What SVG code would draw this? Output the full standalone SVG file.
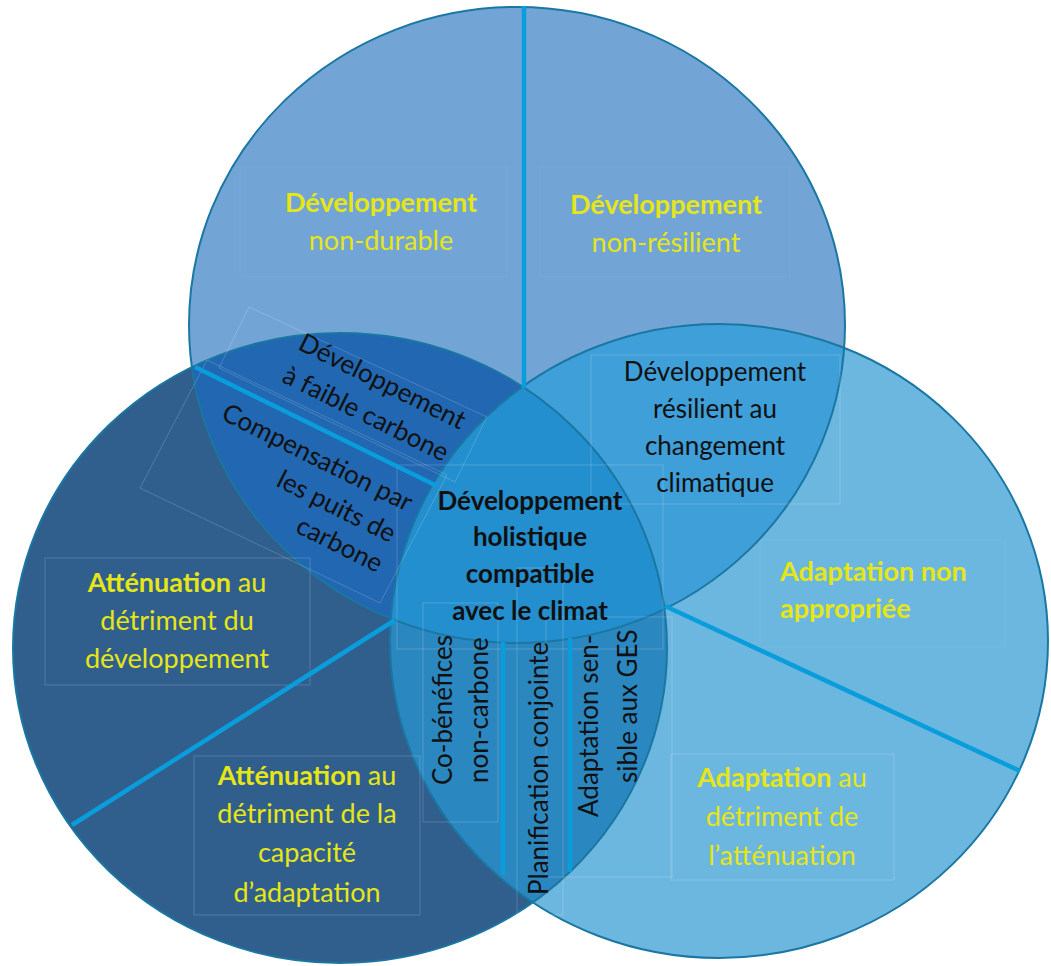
<svg xmlns="http://www.w3.org/2000/svg" width="1051" height="966" viewBox="0 0 1051 966">
<style>
.t{font-family:Lato,"Liberation Sans",sans-serif}
.y{fill:#E6E617;font-size:27px}
.k{fill:#111;font-size:26px}
.v{fill:#111;font-size:26px}
.b{font-weight:bold}
.dv{stroke:#0A9DDB;stroke-width:4.5;fill:none}
.box{fill:none;stroke:#fff;stroke-opacity:.18;stroke-width:1}
.fb{fill:none;stroke:#fff;stroke-opacity:.05;stroke-width:1}
.ol{fill:none;stroke:#1A77A2;stroke-width:2}
</style>
<defs>
<clipPath id="cT"><ellipse cx="517" cy="325" rx="328" ry="318"/></clipPath>
<clipPath id="cL"><ellipse cx="340" cy="648" rx="327" ry="315"/></clipPath>
<clipPath id="cR"><ellipse cx="719" cy="641" rx="329" ry="317"/></clipPath>
</defs>
<rect width="1051" height="966" fill="#fff"/>
<g id="circles">
<ellipse cx="517" cy="325" rx="328" ry="318" fill="#72A4D6"/>
<ellipse cx="340" cy="648" rx="327" ry="315" fill="#305E8D"/>
<ellipse cx="719" cy="641" rx="329" ry="317" fill="#6CB7E0"/>
<ellipse cx="340" cy="648" rx="327" ry="315" fill="#2167B1" clip-path="url(#cT)"/>
<ellipse cx="719" cy="641" rx="329" ry="317" fill="#3F9FD9" clip-path="url(#cT)"/>
<ellipse cx="719" cy="641" rx="329" ry="317" fill="#2A87C0" clip-path="url(#cL)"/>
<g clip-path="url(#cT)"><ellipse cx="719" cy="641" rx="329" ry="317" fill="#238FCF" clip-path="url(#cL)"/></g>
<ellipse class="ol" cx="517" cy="325" rx="328" ry="318"/>
<ellipse class="ol" cx="340" cy="648" rx="327" ry="315"/>
<ellipse class="ol" cx="719" cy="641" rx="329" ry="317"/>
</g>
<g id="textboxes">
<rect class="box" x="45" y="558" width="265" height="127"/>
<rect class="box" x="194" y="756" width="226" height="159"/>
<rect class="box" x="671" y="754" width="223" height="126"/>
<rect class="box" x="591" y="355" width="249" height="149"/>
<rect class="box" x="397" y="465" width="266" height="184"/>
<rect class="box" x="423" y="603" width="75" height="219"/>
<rect class="box" x="517" y="568" width="46" height="347"/>
<rect class="box" x="546" y="617" width="126" height="260"/>
<rect class="fb" x="760" y="540" width="245" height="107"/>
<rect class="fb" x="240" y="167" width="267" height="110"/>
<rect class="fb" x="540" y="167" width="250" height="110"/>
<polygon class="box" points="249,307 487,417 455,482 219,368"/>
<polygon class="box" points="207,360 447,475 380,603 140,488"/>
</g>
<g id="dividers">
<line class="dv" x1="524" y1="6" x2="524" y2="388"/>
<line class="dv" x1="195" y1="367" x2="437" y2="486"/>
<line class="dv" x1="72" y1="825" x2="395" y2="620"/>
<line class="dv" x1="665" y1="606" x2="1020" y2="771"/>
<line class="dv" x1="503" y1="642" x2="503" y2="875"/>
<line class="dv" x1="570" y1="638" x2="570" y2="872"/>
</g>
<g id="dev-non-durable" class="t y" text-anchor="middle">
<text x="381" y="212" class="b">Développement</text>
<text x="381" y="250">non-durable</text>
</g>
<g id="dev-non-resilient" class="t y" text-anchor="middle">
<text x="666" y="214" class="b">Développement</text>
<text x="666" y="252">non-résilient</text>
</g>
<g id="dev-faible-carbone" class="t k" text-anchor="end">
<text transform="translate(460,430) rotate(26.5)">Développement</text>
<text transform="translate(443,462) rotate(26.5)">à faible carbone</text>
</g>
<g id="compensation" class="t k" text-anchor="end">
<text transform="translate(407,512) rotate(26.5)">Compensation par</text>
<text transform="translate(390,543) rotate(26.5)">les puits de</text>
<text transform="translate(377,573) rotate(26.5)">carbone</text>
</g>
<g id="dev-resilient" class="t k" text-anchor="middle">
<text x="715" y="381">Développement</text>
<text x="715" y="418">résilient au</text>
<text x="715" y="455">changement</text>
<text x="715" y="492">climatique</text>
</g>
<g id="dev-holistique" class="t k b" text-anchor="middle">
<text x="530" y="510">Développement</text>
<text x="530" y="546">holistique</text>
<text x="530" y="583">compatible</text>
<text x="530" y="620">avec le climat</text>
</g>
<g id="adapt-non-appropriee" class="t y b">
<text x="780" y="581">Adaptation non</text>
<text x="780" y="618">appropriée</text>
</g>
<g id="adapt-detriment" class="t y" text-anchor="middle">
<text x="782" y="787"><tspan class="b">Adaptation</tspan> au</text>
<text x="782" y="826">détriment de</text>
<text x="782" y="865">l’atténuation</text>
</g>
<g id="att-detriment-dev" class="t y" text-anchor="middle">
<text x="177" y="592"><tspan class="b">Atténuation</tspan> au</text>
<text x="177" y="630">détriment du</text>
<text x="177" y="668">développement</text>
</g>
<g id="att-detriment-adapt" class="t y" text-anchor="middle">
<text x="307" y="785"><tspan class="b">Atténuation</tspan> au</text>
<text x="307" y="823">détriment de la</text>
<text x="307" y="862">capacité</text>
<text x="307" y="902">d’adaptation</text>
</g>
<g id="co-benefices" class="t v">
<text transform="translate(452,785) rotate(-90)">Co-bénéfices</text>
<text transform="translate(488,783) rotate(-90)">non-carbone</text>
</g>
<g id="planification" class="t v">
<text transform="translate(548,895) rotate(-90)">Planification conjointe</text>
</g>
<g id="adapt-sensible" class="t v">
<text transform="translate(598,817) rotate(-90)">Adaptation sen-</text>
<text transform="translate(637,783) rotate(-90)">sible aux GES</text>
</g>
</svg>
